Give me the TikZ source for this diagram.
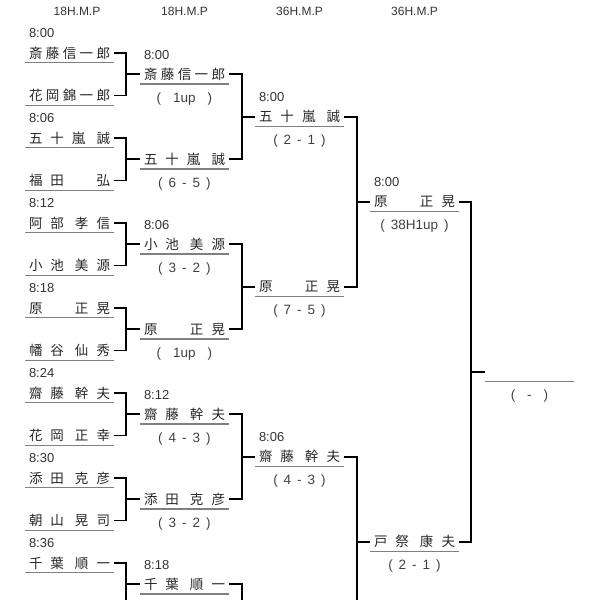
\documentclass[tikz,border=0pt]{standalone}
\usepackage{fontspec}
\setmainfont{Liberation Sans}
\newfontfamily\jp{Noto Sans CJK JP}
\usepackage{tikz}
\usetikzlibrary{positioning}

\newcommand{\nm}[2]{\makebox[81pt]{#1\hfill#2}}
\newcommand{\gp}{\hspace{8pt}}
\newcommand{\gap}{\hspace{6pt}}
\newcommand{\res}[2]{(\gap#1\gap-\gap#2\gap)}

\begin{document}
\begin{tikzpicture}[x=1pt,y=-1pt,
	player/.style={minimum width=89pt,minimum height=19pt,inner xsep=4pt,inner ysep=0pt,
		text height=11pt,text depth=1pt,text=black!85,font=\jp\fontsize{13.5}{15}\selectfont,
		append after command={(\tikzlastnode.south west) edge[uline] (\tikzlastnode.south east)}},
	uline/.style={draw=black!50,line width=1.4pt},
	link/.style={draw,line width=1.8pt},
	time/.style={anchor=west,inner sep=0pt,text height=9pt,text depth=0pt,text=black!80,font=\fontsize{13}{15}\selectfont},
	score/.style={inner sep=0pt,text height=9pt,text depth=0pt,text=black!75,font=\fontsize{13.5}{15}\selectfont},
	head/.style={inner sep=0pt,text=black!80,font=\fontsize{12}{14}\selectfont}]
	 \useasboundingbox (0,0) rectangle (600,600);
	 \node[head] (h1) at (77,11.5) {18H.M.P};
	 \node[head] (h2) at (184.5,11.5) {18H.M.P};
	 \node[head] (h3) at (299.5,11.5) {36H.M.P};
	 \node[head] (h4) at (414.5,11.5) {36H.M.P};
	 % first round
	 \node[player] (p1) at (69.5,53) {\nm{斎\hfill 藤\hfill 信\hfill 一}{郎}};
	 \node[player] (p2) at (69.5,95.5) {\nm{花\hfill 岡\hfill 錦\hfill 一}{郎}};
	 \node[player] (p3) at (69.5,138) {\nm{五\gp 十\gp 嵐}{誠}};
	 \node[player] (p4) at (69.5,180.5) {\nm{福\gp 田}{弘}};
	 \node[player] (p5) at (69.5,223) {\nm{阿\gp 部}{孝\gp 信}};
	 \node[player] (p6) at (69.5,265.5) {\nm{小\gp 池}{美\gp 源}};
	 \node[player] (p7) at (69.5,308) {\nm{原}{正\gp 晃}};
	 \node[player] (p8) at (69.5,350.5) {\nm{幡\gp 谷}{仙\gp 秀}};
	 \node[player] (p9) at (69.5,393) {\nm{齋\gp 藤}{幹\gp 夫}};
	 \node[player] (p10) at (69.5,435.5) {\nm{花\gp 岡}{正\gp 幸}};
	 \node[player] (p11) at (69.5,478) {\nm{添\gp 田}{克\gp 彦}};
	 \node[player] (p12) at (69.5,520.5) {\nm{朝\gp 山}{晃\gp 司}};
	 \node[player] (p13) at (69.5,563) {\nm{千\gp 葉}{順\gp 一}};
	 \coordinate (p14) at (114,605.5);
	 \node[time] (tp1) at ([shift={(4pt,10pt)}]p1.north west) {8:00};
	 \node[time] (tp3) at ([shift={(4pt,10pt)}]p3.north west) {8:06};
	 \node[time] (tp5) at ([shift={(4pt,10pt)}]p5.north west) {8:12};
	 \node[time] (tp7) at ([shift={(4pt,10pt)}]p7.north west) {8:18};
	 \node[time] (tp9) at ([shift={(4pt,10pt)}]p9.north west) {8:24};
	 \node[time] (tp11) at ([shift={(4pt,10pt)}]p11.north west) {8:30};
	 \node[time] (tp13) at ([shift={(4pt,10pt)}]p13.north west) {8:36};
	 % second round
	 \node[player] (q1) at (184.5,74.25) {\nm{斎\hfill 藤\hfill 信\hfill 一}{郎}};
	 \node[player] (q2) at (184.5,159.25) {\nm{五\gp 十\gp 嵐}{誠}};
	 \node[player] (q3) at (184.5,244.25) {\nm{小\gp 池}{美\gp 源}};
	 \node[player] (q4) at (184.5,329.25) {\nm{原}{正\gp 晃}};
	 \node[player] (q5) at (184.5,414.25) {\nm{齋\gp 藤}{幹\gp 夫}};
	 \node[player] (q6) at (184.5,499.25) {\nm{添\gp 田}{克\gp 彦}};
	 \node[player] (q7) at (184.5,584.25) {\nm{千\gp 葉}{順\gp 一}};
	 \coordinate (q8) at (229,669.25);
	 \node[time] (tq1) at ([shift={(4pt,10pt)}]q1.north west) {8:00};
	 \node[time] (tq3) at ([shift={(4pt,10pt)}]q3.north west) {8:06};
	 \node[time] (tq5) at ([shift={(4pt,10pt)}]q5.north west) {8:12};
	 \node[time] (tq7) at ([shift={(4pt,10pt)}]q7.north west) {8:18};
	 \node[score] (sq1) at ([yshift=-14pt]q1.south) {(\gap\gap 1up\gap\gap)};
	 \node[score] (sq2) at ([yshift=-14pt]q2.south) {\res{6}{5}};
	 \node[score] (sq3) at ([yshift=-14pt]q3.south) {\res{3}{2}};
	 \node[score] (sq4) at ([yshift=-14pt]q4.south) {(\gap\gap 1up\gap\gap)};
	 \node[score] (sq5) at ([yshift=-14pt]q5.south) {\res{4}{3}};
	 \node[score] (sq6) at ([yshift=-14pt]q6.south) {\res{3}{2}};
	 % third round
	 \node[player] (r1) at (299.5,116.75) {\nm{五\gp 十\gp 嵐}{誠}};
	 \node[player] (r2) at (299.5,286.75) {\nm{原}{正\gp 晃}};
	 \node[player] (r3) at (299.5,456.75) {\nm{齋\gp 藤}{幹\gp 夫}};
	 \coordinate (r4) at (344,626.75);
	 \node[time] (tr1) at ([shift={(4pt,10pt)}]r1.north west) {8:00};
	 \node[time] (tr3) at ([shift={(4pt,10pt)}]r3.north west) {8:06};
	 \node[score] (sr1) at ([yshift=-14pt]r1.south) {\res{2}{1}};
	 \node[score] (sr2) at ([yshift=-14pt]r2.south) {\res{7}{5}};
	 \node[score] (sr3) at ([yshift=-14pt]r3.south) {\res{4}{3}};
	 % semi final and final
	 \node[player] (s1) at (414.5,201.75) {\nm{原}{正\gp 晃}};
	 \node[player] (s2) at (414.5,541.75) {\nm{戸\gp 祭}{康\gp 夫}};
	 \node[time] (ts1) at ([shift={(4pt,10pt)}]s1.north west) {8:00};
	 \node[score] (ss1) at ([yshift=-14pt]s1.south) {(\gap 38H1up\gap)};
	 \node[score] (ss2) at ([yshift=-14pt]s2.south) {\res{2}{1}};
	 \node[player] (t1) at (529.5,371.75) {};
	 \node[score] (st1) at ([yshift=-14pt]t1.south) {(\gap\gap-\gap\gap)};
	 % brackets
	 \draw[link] (p1.east) -- ++(12,0) |- (q1.west);
	 \draw[link] (p2.east) -- ++(12,0) |- (q1.west);
	 \draw[link] (p3.east) -- ++(12,0) |- (q2.west);
	 \draw[link] (p4.east) -- ++(12,0) |- (q2.west);
	 \draw[link] (p5.east) -- ++(12,0) |- (q3.west);
	 \draw[link] (p6.east) -- ++(12,0) |- (q3.west);
	 \draw[link] (p7.east) -- ++(12,0) |- (q4.west);
	 \draw[link] (p8.east) -- ++(12,0) |- (q4.west);
	 \draw[link] (p9.east) -- ++(12,0) |- (q5.west);
	 \draw[link] (p10.east) -- ++(12,0) |- (q5.west);
	 \draw[link] (p11.east) -- ++(12,0) |- (q6.west);
	 \draw[link] (p12.east) -- ++(12,0) |- (q6.west);
	 \draw[link] (p13.east) -- ++(12,0) |- (q7.west);
	 \draw[link] (p14) -- ++(12,0) |- (q7.west);
	 \draw[link] (q1.east) -- ++(13,0) |- (r1.west);
	 \draw[link] (q2.east) -- ++(13,0) |- (r1.west);
	 \draw[link] (q3.east) -- ++(13,0) |- (r2.west);
	 \draw[link] (q4.east) -- ++(13,0) |- (r2.west);
	 \draw[link] (q5.east) -- ++(13,0) |- (r3.west);
	 \draw[link] (q6.east) -- ++(13,0) |- (r3.west);
	 \draw[link] (q7.east) -- ++(13,0) |- (r4);
	 \draw[link] (q8) -- ++(13,0) |- (r4);
	 \draw[link] (r1.east) -- ++(13,0) |- (s1.west);
	 \draw[link] (r2.east) -- ++(13,0) |- (s1.west);
	 \draw[link] (r3.east) -- ++(13,0) |- (s2.west);
	 \draw[link] (r4) -- ++(13,0) |- (s2.west);
	 \draw[link] (s1.east) -- ++(12,0) |- (t1.west);
	 \draw[link] (s2.east) -- ++(12,0) |- (t1.west);
\end{tikzpicture}
\end{document}
